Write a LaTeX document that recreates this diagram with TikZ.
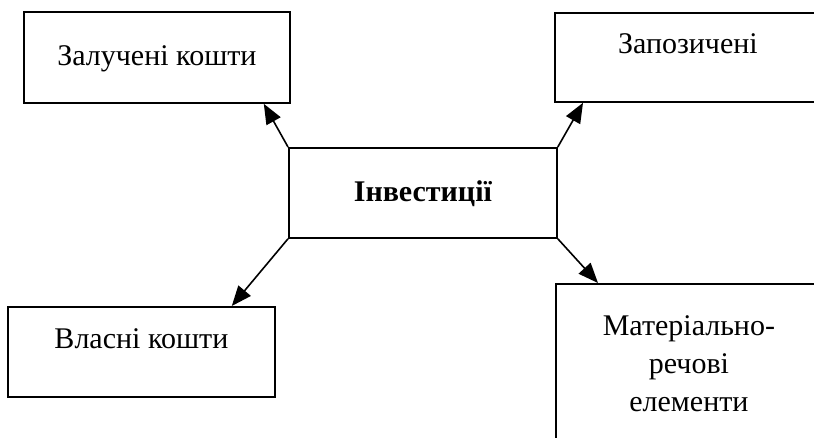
\documentclass[tikz,border=0pt]{standalone}
\usepackage{fontspec}
\setmainfont{Liberation Serif}
\usetikzlibrary{positioning,arrows.meta}

\begin{document}
\begin{tikzpicture}[
  >={Triangle[length=10pt,width=8pt]},shorten >=0pt,line width=0.8pt,
  x=0.5pt,y=-0.5pt,
  font=\fontsize{15}{19}\selectfont
]
  \tikzstyle{block}=[draw=black,line width=0.9pt,inner sep=0pt,anchor=north west]

  \useasboundingbox (0,0) rectangle (814,438);

  % Nodes (four sources round the central box)
  \node[block, minimum width=133pt, text height=27pt,   text depth=18.5pt] (zal) at (23,11)   {Залучені кошти};
  \node[block, minimum width=133pt, text height=20.5pt, text depth=24pt]   (zap) at (554,12)  {Запозичені};
  \node[block, minimum width=134pt, text height=27pt,   text depth=18pt, font=\fontsize{15}{19}\selectfont\bfseries] (inv) at (288,147) {Інвестиції};
  \node[block, minimum width=133.5pt, text height=21pt, text depth=24pt]   (vla) at (7,306)   {Власні кошти};
  \node[block, text width=133pt, align=center, text height=26pt, text depth=70pt] (mat) at (555,283) {Матеріально-\\речові\\елементи};

  % Edges
  \draw[->] (inv.north west) -- ([xshift=-13.5pt]zal.south east);
  \draw[->] (inv.north east) -- ([xshift=14.5pt]zap.south west);
  \draw[->] (inv.south west) -- ([xshift=-22pt]vla.north east);
  \draw[->] (inv.south east) -- ([xshift=21.5pt]mat.north west);
\end{tikzpicture}
\end{document}
